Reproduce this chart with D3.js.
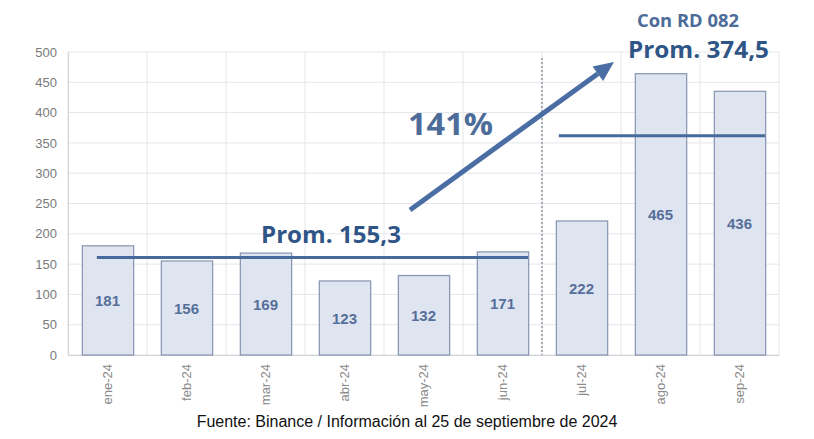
<!DOCTYPE html>
<html><head><meta charset="utf-8">
<script src="https://cdn.jsdelivr.net/npm/d3@7"></script>
<style>body{margin:0;background:#fff}svg{display:block}</style>
</head><body>
<svg id="c" width="814" height="439"></svg>
<script>
const months = ["ene-24","feb-24","mar-24","abr-24","may-24","jun-24","jul-24","ago-24","sep-24"];
const values = [181,156,169,123,132,171,222,465,436];
const yTicks = [0,50,100,150,200,250,300,350,400,450,500];
const avgLabels = ["Prom. 155,3","Prom. 374,5"];
const avgLevels = [161, 362]; // line heights as drawn in the picture
const avgRanges = [[0,5],[6,8]];
const growthLabel = "141%";
const noteLabel = "Con RD 082";
const source = "Fuente: Binance / Información al 25 de septiembre de 2024";

const svg = d3.select("#c");
const L = 68, R = 779, T = 52, B = 355;
const x = d3.scaleBand().domain(months).range([L,R]).paddingInner(0.35).paddingOuter(0.175);
const y = d3.scaleLinear().domain([0,500]).range([B,T]);
const step = x.step();

// grid
svg.append("g").selectAll("line").data(yTicks).join("line")
  .attr("x1",L).attr("x2",R).attr("y1",d=>y(d)).attr("y2",d=>y(d))
  .attr("stroke","#e4e6ea").attr("stroke-width",1);
svg.append("g").selectAll("line").data(d3.range(months.length+1)).join("line")
  .attr("x1",i=>L+i*step).attr("x2",i=>L+i*step).attr("y1",T).attr("y2",B)
  .attr("stroke","#e4e6ea").attr("stroke-width",1);

// axes
const ya = svg.append("g").attr("transform",`translate(${L},0)`)
  .call(d3.axisLeft(y).tickValues(yTicks).tickSize(0).tickPadding(11));
ya.select(".domain").attr("stroke","#cfd3da");
ya.selectAll("text").attr("fill","#7a7a7a").style("font-family","Liberation Sans, Arial, sans-serif").style("font-size","13px");

const xa = svg.append("g").attr("transform",`translate(0,${B})`)
  .call(d3.axisBottom(x).tickSize(0).tickPadding(0));
xa.select(".domain").attr("stroke","#cfd3da");
xa.selectAll("text").attr("fill","#8a8a8a").style("font-family","Liberation Sans, Arial, sans-serif").style("font-size","13px")
  .attr("transform","rotate(-90)").attr("text-anchor","end").attr("dx","-9px").attr("dy","4px").attr("y",0);

// divider
svg.append("line").attr("x1",L+6*step).attr("x2",L+6*step).attr("y1",58).attr("y2",B)
  .attr("stroke","#a9adb5").attr("stroke-width",2).attr("stroke-dasharray","2,2");

// bars
svg.append("g").selectAll("rect").data(values).join("rect")
  .attr("x",(d,i)=>x(months[i])+0.5).attr("y",d=>y(d)+0.5)
  .attr("width",x.bandwidth()).attr("height",d=>B-y(d)-0.5)
  .attr("fill","#dfe5f0").attr("stroke","#8593b0").attr("stroke-width",1.2);

svg.append("g").selectAll("text").data(values).join("text")
  .attr("x",(d,i)=>x(months[i])+x.bandwidth()/2).attr("y",d=>y(d/2)+6)
  .attr("text-anchor","middle").attr("fill","#566f9a")
  .style("font-family","Liberation Sans, Arial, sans-serif").style("font-size","15px").style("font-weight","bold")
  .text(d=>d);

// average lines
avgLevels.forEach((v,k)=>{
  const [a,b] = avgRanges[k];
  const x1 = k===0 ? x(months[a])+15 : x(months[a])+3;
  const x2 = x(months[b])+x.bandwidth();
  svg.append("line").attr("x1",x1).attr("x2",x2).attr("y1",y(v)).attr("y2",y(v))
    .attr("stroke","#466a9b").attr("stroke-width",3);
});

// arrow
const ax1 = 410, ay1 = 210, ax2 = 614, ay2 = 62;
const ang = Math.atan2(ay2-ay1, ax2-ax1);
const hl = 20, hw = 9;
const bx = ax2 - hl*Math.cos(ang), by = ay2 - hl*Math.sin(ang);
svg.append("line").attr("x1",ax1).attr("y1",ay1).attr("x2",bx).attr("y2",by)
  .attr("stroke","#4a6ea3").attr("stroke-width",5);
svg.append("path").attr("d",`M${ax2},${ay2} L${bx - hw*Math.sin(ang)},${by + hw*Math.cos(ang)} L${bx + hw*Math.sin(ang)},${by - hw*Math.cos(ang)} Z`)
  .attr("fill","#4a6ea3");

const ff = "Open Sans, Lato, sans-serif";
function fit(sel, w){ const bb = sel.node().getComputedTextLength(); sel.attr("textLength",w).attr("lengthAdjust","spacingAndGlyphs"); }
const t1 = svg.append("text").attr("x",408).attr("y",135).text(growthLabel)
  .attr("fill","#4d6c99").style("font-family",ff).style("font-weight","bold").style("font-size","31px");
fit(t1,85);
const t2 = svg.append("text").attr("x",261).attr("y",243).text(avgLabels[0])
  .attr("fill","#2f5587").style("font-family",ff).style("font-weight","bold").style("font-size","23px");
fit(t2,140);
const t3 = svg.append("text").attr("x",637).attr("y",27).text(noteLabel)
  .attr("fill","#4d6c99").style("font-family",ff).style("font-weight","bold").style("font-size","17px");
fit(t3,102);
const t4 = svg.append("text").attr("x",628).attr("y",58).text(avgLabels[1])
  .attr("fill","#2f5587").style("font-family",ff).style("font-weight","bold").style("font-size","24px");
fit(t4,141);

svg.append("text").attr("x",407).attr("y",427).attr("text-anchor","middle").text(source)
  .attr("fill","#111").style("font-family","Liberation Sans, Arial, sans-serif").style("font-size","16px");
</script>
</body></html>
